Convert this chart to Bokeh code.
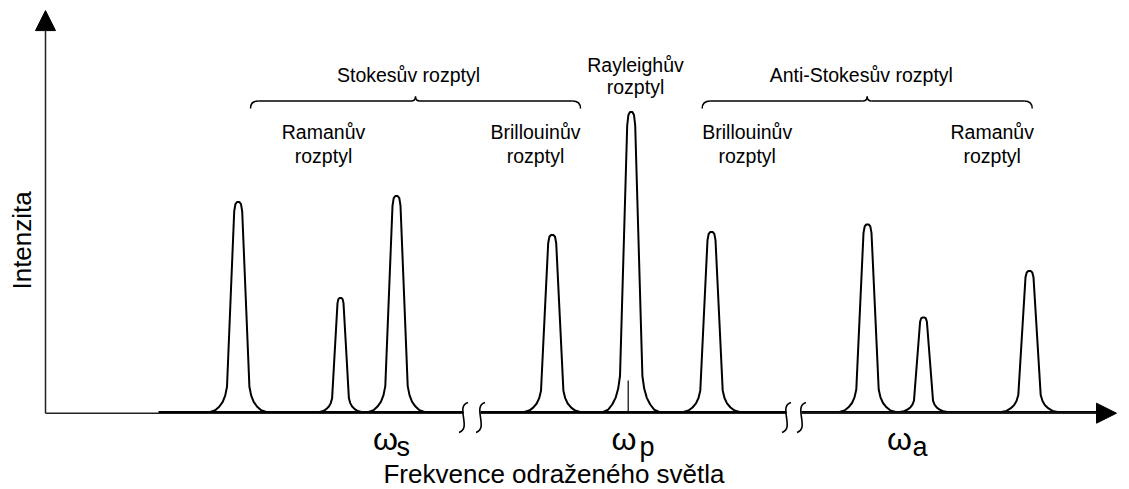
import numpy as np
from bokeh.plotting import figure
from bokeh.models import Range1d, Arrow, NormalHead
from bokeh.core.properties import value
from bokeh.embed import file_html
from bokeh.resources import INLINE

# ---------------- data (frequency in arbitrary units, intensity relative to Rayleigh peak) -------------
peak_names = ["Raman S1", "Raman S2", "Raman S3", "Brillouin S", "Rayleigh",
              "Brillouin AS", "Raman AS1", "Raman AS2", "Raman AS3"]
peak_pos = [19.27, 29.5, 35.1, 50.67, 58.57, 66.6, 82.2, 87.8, 98.4]
peak_height = [0.70, 0.38, 0.72, 0.59, 1.0, 0.60, 0.625, 0.315, 0.47]
peak_width = [1.0, 0.75, 1.0, 1.0, 1.0, 1.0, 1.0, 0.85, 1.0]

# peak profile shape (offset from centre, fraction of peak height)
profile_dx = [-2.8, -2.3, -1.9, -1.55, -1.3, -1.12, -0.75, -0.4, -0.28, -0.12,
              0.12, 0.28, 0.4, 0.75, 1.12, 1.3, 1.55, 1.9, 2.3, 2.8]
profile_f = [0.0, 0.008, 0.025, 0.048, 0.078, 0.12, 0.55, 0.955, 0.99, 1.0,
             1.0, 0.99, 0.955, 0.55, 0.12, 0.078, 0.048, 0.025, 0.008, 0.0]

# spectrum baseline pieces and axis breaks
seg_start = [11.3, 43.5, 75.6]
seg_end = [41.8, 74.1, 105.3]
break_pos = [41.8, 43.5, 74.1, 75.6]
omega_p = 58.27

# braces
brace_start = [20.5, 65.67]
brace_end = [53.5, 98.67]

# texts
group_labels = ["Stokesův rozptyl", "Anti-Stokesův rozptyl"]
peak_labels_1 = ["Ramanův", "Brillouinův", "Rayleighův", "Brillouinův", "Ramanův"]
peak_labels_2 = ["rozptyl", "rozptyl", "rozptyl", "rozptyl", "rozptyl"]
omega_sub = ["s", "p", "a"]
x_title = "Frekvence odraženého světla"
y_title = "Intenzita"

# ---------------- layout ----------------
W, H = 1129, 489
p = figure(width=W, height=H, output_backend="svg", toolbar_location=None,
           x_range=Range1d(-4.5, 108.4), y_range=Range1d(-0.25833, 1.37167),
           x_axis_location=None, y_axis_location=None, min_border=0)
p.grid.visible = False
p.outline_line_color = None
p.background_fill_color = "white"
p.border_fill_color = "white"

FONT = value("Liberation Sans")
INK = "black"
TS = 0.021  # text baseline correction

# axes
axis_y = -0.004
ax_start = [0.0, break_pos[1], break_pos[3]]
ax_end = [break_pos[0], break_pos[2]]
p.segment(x0=ax_start[:2], y0=[axis_y] * 2, x1=ax_end, y1=[axis_y] * 2,
          line_color="#222222", line_width=1.5)
p.add_layout(Arrow(end=NormalHead(size=20, fill_color=INK, line_color=INK),
                   x_start=ax_start[2], y_start=axis_y, x_end=107.1, y_end=axis_y,
                   line_color="#222222", line_width=1.5))
p.add_layout(Arrow(end=NormalHead(size=20, fill_color=INK, line_color=INK),
                   x_start=0, y_start=axis_y, x_end=0, y_end=1.338,
                   line_color="#222222", line_width=1.5))

# spectrum baseline
p.segment(x0=seg_start, y0=[0] * 3, x1=seg_end, y1=[0] * 3, line_color=INK, line_width=2)

# peaks
dx = np.array(profile_dx)
fr = np.array(profile_f)
xs = [list(c + dx * w) for c, w in zip(peak_pos, peak_width)]
ys = [list(h * fr) for h in peak_height]
p.multi_line(xs=xs, ys=ys, line_color=INK, line_width=2, line_join="round")

# omega_p marker
p.segment(x0=[omega_p], y0=[0], x1=[omega_p], y1=[0.105], line_color=INK, line_width=1.2)

# break marks
bx = np.array(break_pos)
p.bezier(x0=bx + 0.45, y0=[0.032] * 4, x1=bx - 0.45, y1=[-0.068] * 4,
         cx0=bx - 0.85, cy0=[0.02] * 4, cx1=bx + 0.85, cy1=[-0.056] * 4,
         line_color=INK, line_width=1.6)

# braces
y_line, y_end, y_tip = 1.037, 1.012, 1.052
r, r2 = 0.8, 0.45
for a, b in zip(brace_start, brace_end):
    c = (a + b) / 2
    p.quadratic(x0=[a, c - r2, c, b - r], y0=[y_end, y_line, y_tip, y_line],
                x1=[a + r, c, c + r2, b], y1=[y_line, y_tip, y_line, y_end],
                cx=[a, c, c, b], cy=[y_line, y_line, y_line, y_line],
                line_color=INK, line_width=1.5)
    p.segment(x0=[a + r, c + r2], y0=[y_line] * 2, x1=[c - r2, b - r], y1=[y_line] * 2,
              line_color=INK, line_width=1.5)

# group labels
p.text(x=[36.3, 81.58], y=[1.103 + TS] * 2, text=group_labels, text_font=FONT,
       text_font_size="19.5px", text_align="center", text_baseline="alphabetic", text_color=INK)

lab_x = [27.8, 49.0, 59.0, 70.17, 94.67]
lab_y1 = [0.914, 0.914, 1.136, 0.914, 0.914]
lab_y2 = [0.833, 0.833, 1.062, 0.833, 0.833]
p.text(x=lab_x, y=[v + TS for v in lab_y1], text=peak_labels_1, text_font=FONT,
       text_font_size="19.5px", text_align="center", text_baseline="alphabetic", text_color=INK)
p.text(x=lab_x, y=[v + TS for v in lab_y2], text=peak_labels_2, text_font=FONT,
       text_font_size="19.5px", text_align="center", text_baseline="alphabetic", text_color=INK)

# omega labels
p.text(x=[34.0, 57.85, 85.4], y=[-0.112 + TS] * 3, text=["ω"] * 3, text_font=FONT,
       text_font_size="32px", text_align="center", text_baseline="alphabetic", text_color=INK)
p.text(x=[35.1, 59.4, 86.7], y=[-0.136 + TS] * 3, text=omega_sub, text_font=FONT,
       text_font_size="27px", text_align="left", text_baseline="alphabetic", text_color=INK)

# axis titles
p.text(x=[50.85], y=[-0.234 + 0.027], text=[x_title], text_font=FONT, text_font_size="26px",
       text_align="center", text_baseline="alphabetic", text_color=INK)
p.text(x=[-2.4], y=[0.572], text=[y_title], text_font=FONT, text_font_size="26px",
       text_align="center", text_baseline="alphabetic", angle=np.pi / 2, text_color=INK)

open("out.html", "w").write(file_html(p, INLINE))
